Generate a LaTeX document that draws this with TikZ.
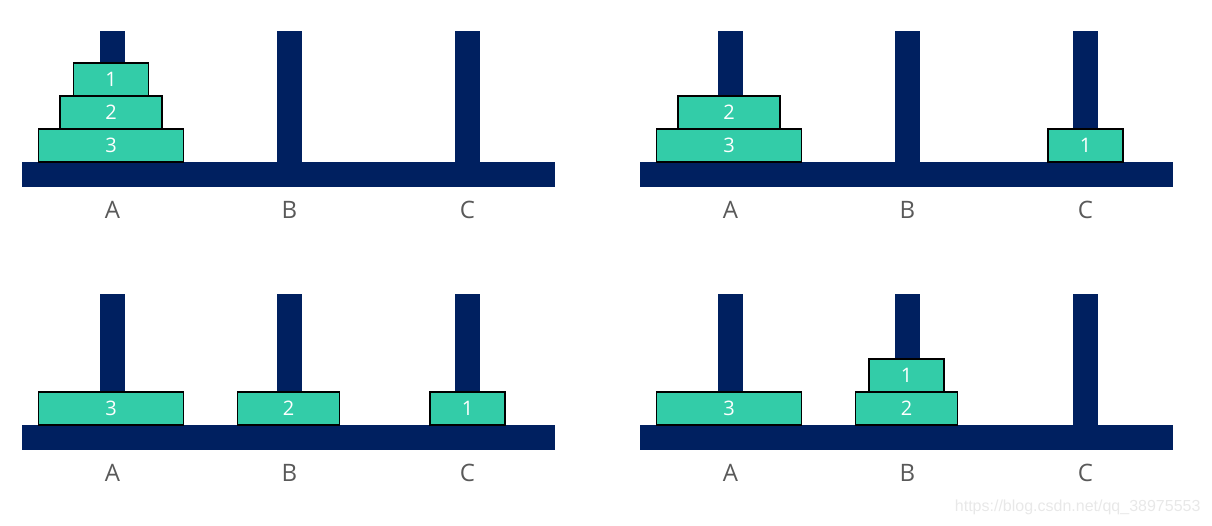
\documentclass[tikz,border=0pt]{standalone}
\usepackage{fontspec}
\setmainfont{Open Sans}
\newfontfamily\wmfont{Liberation Sans}
\definecolor{hanoiNavy}{RGB}{0,32,96}
\definecolor{hanoiTeal}{RGB}{51,204,168}
\definecolor{hanoiGray}{RGB}{89,89,89}
\usetikzlibrary{positioning}

\begin{document}
\begin{tikzpicture}[x=1pt, y=-1pt,
  base/.style={fill=hanoiNavy, inner sep=0pt, outer sep=0pt,
               minimum width=533pt, minimum height=25pt},
  peg/.style={fill=hanoiNavy, inner sep=0pt, outer sep=0pt,
              minimum width=25pt, minimum height=131pt},
  disk/.style={draw=black, line width=1.5pt, fill=hanoiTeal, text=white,
               inner sep=0pt, outer sep=0pt, minimum height=33pt,
               font=\fontsize{20}{20}\selectfont},
  one/.style={disk, minimum width=75pt},
  two/.style={disk, minimum width=102pt},
  three/.style={disk, minimum width=145pt},
  rodname/.style={text=hanoiGray, font=\fontsize{24}{24}\selectfont}
]
  \useasboundingbox (0,0) rectangle (1212,525);

  % base, pegs and names of the four panels
  \foreach \p/\dx/\dy in {1/0/0, 2/618/0, 3/0/263, 4/618/263} {
    \begin{scope}[shift={(\dx,\dy)}]
      \node[base] (base\p) at (288.5,174.5) {};
      \foreach \r/\px in {A/112.5, B/289.5, C/467.5} {
        \node[peg]     (peg\p\r)  at (\px,96.5) {};
        \node[rodname] (name\p\r) at (\px,210)  {\r};
      }
    \end{scope}
  }

  % panel 1
  \node[three, anchor=south, xshift=-1.5pt] (d1c) at (peg1A.south) {3};
  \node[two, above=0pt of d1c]              (d1b) {2};
  \node[one, above=0pt of d1b]              (d1a) {1};

  % panel 2
  \node[three, anchor=south, xshift=-1.5pt] (d2c) at (peg2A.south) {3};
  \node[two, above=0pt of d2c]              (d2b) {2};
  \node[one, anchor=south]                  (d2a) at (peg2C.south) {1};

  % panel 3
  \node[three, anchor=south, xshift=-1.5pt] (d3c) at (peg3A.south) {3};
  \node[two, anchor=south, xshift=-1pt]     (d3b) at (peg3B.south) {2};
  \node[one, anchor=south]                  (d3a) at (peg3C.south) {1};

  % panel 4
  \node[three, anchor=south, xshift=-1.5pt] (d4c) at (peg4A.south) {3};
  \node[two, anchor=south, xshift=-1pt]     (d4b) at (peg4B.south) {2};
  \node[one, above=0pt of d4b]              (d4a) {1};

  \node[anchor=east, text=black!9, font=\wmfont\fontsize{16}{16}\selectfont]
    (mark) at (1204,507) {https://blog.csdn.net/qq\_38975553};
\end{tikzpicture}
\end{document}
